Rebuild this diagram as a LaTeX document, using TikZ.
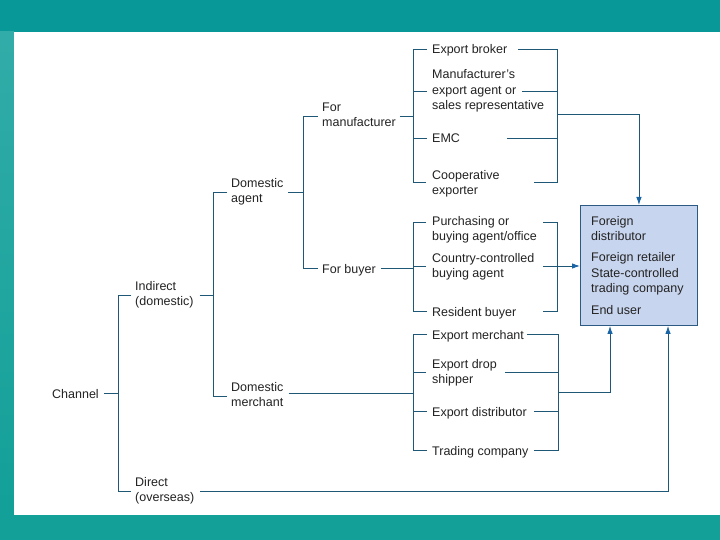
\documentclass[tikz,border=0pt]{standalone}
\usepackage{fontspec}
\setmainfont{Liberation Sans}
\usetikzlibrary{arrows.meta}
\definecolor{tealtop}{RGB}{8,152,152}
\definecolor{tealbot}{RGB}{18,160,152}
\definecolor{strip}{RGB}{50,172,168}
\definecolor{lncol}{RGB}{30,88,118}
\definecolor{arrcol}{RGB}{25,100,165}
\definecolor{boxfill}{RGB}{200,213,238}
\definecolor{boxline}{RGB}{45,90,130}
\definecolor{txt}{RGB}{35,35,35}
\newcommand\mystrut{\rule[-3pt]{0pt}{16pt}}
\begin{document}
\begin{tikzpicture}[x=1pt,y=-1pt,
  lbl/.style={anchor=west,inner xsep=0pt,inner ysep=0pt,align=left,
    font=\fontsize{12.5}{15.5}\selectfont,text=txt,
    execute at begin node=\mystrut,execute at end node=\mystrut},
  ln/.style={draw=lncol,line width=0.9pt},
  arr/.style={draw=lncol,line width=0.9pt,-{Latex[length=8pt,width=5.5pt,color=arrcol]}}]
\useasboundingbox (0,0) rectangle (720,540);
% background
\fill[tealtop] (0,0) rectangle (720,32);
\fill[tealbot] (0,515) rectangle (720,540);
\shade[top color=strip, bottom color=tealbot] (0,32) rectangle (14,515);
\fill[white] (14,32) rectangle (720,515);

% text nodes
\node[lbl] (ch) at (52,393) {Channel};
\node[lbl] (ind) at (135,295) {Indirect\\(domestic)};
\node[lbl] (dir) at (135,491) {Direct\\(overseas)};
\node[lbl] (dag) at (231,192) {Domestic\\agent};
\node[lbl] (dme) at (231,396) {Domestic\\merchant};
\node[lbl] (fma) at (322,116) {For\\manufacturer};
\node[lbl] (fbu) at (322,268) {For buyer};
\node[lbl] (eb) at (432,49) {Export broker};
\node[lbl] (mea) at (432,91) {Manufacturer’s\\export agent or\\sales representative};
\node[lbl] (emc) at (432,138) {EMC};
\node[lbl] (coop) at (432,184) {Cooperative\\exporter};
\node[lbl] (pur) at (432,230) {Purchasing or\\buying agent/office};
\node[lbl] (ccb) at (432,267) {Country-controlled\\buying agent};
\node[lbl] (res) at (432,311) {Resident buyer};
\node[lbl] (em) at (432,334) {Export merchant};
\node[lbl] (eds) at (432,373) {Export drop\\shipper};
\node[lbl] (ed) at (432,411) {Export distributor};
\node[lbl] (tc) at (432,450) {Trading company};

% target box
\node[draw=boxline,fill=boxfill,line width=0.9pt,minimum width=117pt,minimum height=120pt,
  anchor=north west,inner sep=0pt] (box) at (580,205) {};
\node[lbl] (fd) at (591,230) {Foreign\\distributor};
\node[lbl] (fr) at (591,256) {Foreign retailer};
\node[lbl] (sc) at (591,282) {State-controlled\\trading company};
\node[lbl] (eu) at (591,309) {End user};

% level 1
\draw[ln] ([xshift=5pt]ch.east) -- (118,393);
\draw[ln] ([xshift=-4pt]ind.west) -- (118,295) -- (118,491) -- ([xshift=-4pt]dir.west);
% level 2
\draw[ln] ([xshift=6pt]ind.east) -- (213,295);
\draw[ln] ([xshift=-4pt]dag.west) -- (213,192) -- (213,396) -- ([xshift=-4pt]dme.west);
% level 3
\draw[ln] ([xshift=5pt]dag.east) -- (303,192);
\draw[ln] ([xshift=-4pt]fma.west) -- (303,116) -- (303,268) -- ([xshift=-4pt]fbu.west);

% for manufacturer group
\draw[ln] ([xshift=4pt]fma.east) -- (413,116);
\draw[ln] ([xshift=-5pt]eb.west) -- (413,49) -- (413,182) -- (426,182);
\draw[ln] (413,91) -- ([xshift=-5pt]mea.west);
\draw[ln] (413,138) -- ([xshift=-5pt]emc.west);
\draw[ln] (518,49) -- (557,49) -- (557,182) -- (534,182);
\draw[ln] (522,91) -- (557,91);
\draw[ln] (507,138) -- (557,138);
\draw[arr] (557,114) -- (box.north |- 0,114) -- (box.north);

% for buyer group
\draw[ln] ([xshift=5pt]fbu.east) -- (413,268);
\draw[ln] (426,222) -- (413,222) -- (413,311) -- ([xshift=-5pt]res.west);
\draw[ln] (413,266) -- (426,266);
\draw[ln] (543,222) -- (557,222) -- (557,311) -- (543,311);
\draw[arr] (543,266) -- (box.west |- 0,266);

% domestic merchant group
\draw[ln] ([xshift=5pt]dme.east |- 0,393) -- (413,393);
\draw[ln] ([xshift=-5pt]em.west) -- (413,334) -- (413,450) -- ([xshift=-5pt]tc.west);
\draw[ln] (413,372) -- (426,372);
\draw[ln] (413,411) -- ([xshift=-5pt]ed.west);
\draw[ln] (527,334) -- (558,334) -- (558,450) -- (534,450);
\draw[ln] (505,372) -- (558,372);
\draw[ln] (534,411) -- (558,411);
\draw[arr] (558,392) -- (610,392) -- (box.south -| 610,0);

% direct
\draw[arr] ([xshift=6pt]dir.east) -- (668,491) -- (box.south -| 668,0);
\end{tikzpicture}
\end{document}
